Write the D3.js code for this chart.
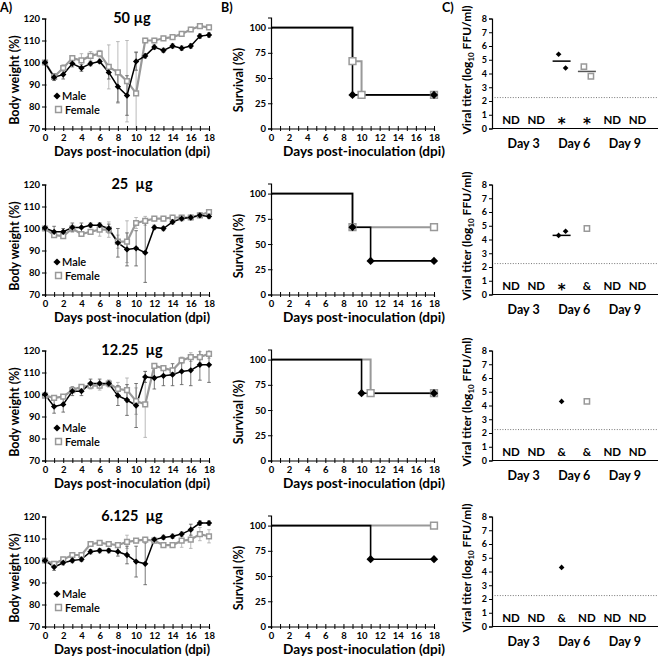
<!DOCTYPE html>
<html><head><meta charset="utf-8">
<script src="https://cdn.jsdelivr.net/npm/d3@7"></script>
<style>
body{margin:0;background:#fff}
text{font-family:Lato,"Open Sans",sans-serif;fill:#000}
</style>
</head><body>
<svg id="chart" width="658" height="661"></svg>
<script>
// ---------- DATA ----------
const days = [0,1,2,3,4,5,6,7,8,9,10,11,12,13,14,15,16,17,18];
const dayTickLabels = [0,2,4,6,8,10,12,14,16,18];
const weightTicks = [70,80,90,100,110,120];
const survivalTicks = [0,25,50,75,100];
const titerTicks = [0,1,2,3,4,5,6,7,8];
const doses = ["50 µg","25  µg","12.25  µg","6.125  µg"];
const seriesNames = ["Male","Female"];

const maleWeight = [
 [100,93.3,94.5,99.5,97.5,99.5,100.5,95.5,89,85,100.5,103,107,105.5,107.5,106.5,107.5,112,112.5],
 [100.3,98.5,98.5,100.5,100.5,101.5,101.5,100,93.5,90.5,91,89,100.5,100,103,104.5,105,106,105.5],
 [100,94.5,95.5,101.5,101.5,105,105,105,99.5,97.5,95,108,107.5,108.5,109,110.5,111,113.5,113.5],
 [100,97,99,100,100.5,104,104.5,104.5,104,102.5,99.5,98.5,109.5,110.5,111,112,114,117,117]
];
const maleErr = [
 [0.5,1.5,2,1.5,1.5,1,1,3,7,9,4,1,1,1,1,1,1,1,1],
 [0.5,2.5,1.5,2,2,1,1,2,6.5,7.5,8,13.5,1,1,1,1,1,1,1],
 [0.5,3,3.5,2,2,2,2,1.5,4.5,7,10,2.5,5,4.5,5,6,7,7,8],
 [0.5,1.5,1,1,1,1,1,1,2,4,7,9.5,1,1,1,1,2.5,1,1]
];
const femaleWeight = [
 [100,93.5,97.5,102,101,103,104,98,95.5,91.5,86,110,110,111,111.5,113,115,116.5,116],
 [100,97,96.5,100,97.5,98.5,99.5,99.5,94,94,102.5,103.5,104.5,104.5,105,105,105,106,107.5],
 [99.5,98.5,99,102,103.5,104,104,105,102.5,102,97,95.5,113,112,111,115.5,117,117,118.5],
 [100,98.5,100.5,102.5,102.5,107.5,108,107.5,107,108.5,109,109.5,109,107,107,109,109.5,112,111]
];
const femaleErr = [
 [0.5,1.5,1.5,1,3,2,1.5,10,14,18.5,19,1,1,1,1,1,1,1,1],
 [0.5,1,1,1.5,1,1,3,3.5,3,9.5,2.5,2,1,1,1,1,1,1,1],
 [0.5,1,1,1,1,1.5,2,1,3,5.5,6,15,1,1,1,1.5,2,2.5,2],
 [0.5,1,1,1,1,1,1,1,1,3,1,1,1,1,1,3,4,3,3]
];

// survival steps: [day, percent]
const maleSurvival = [
 [[0,100],[9,33.3],[18,33.3]],
 [[0,100],[9,66.7],[11,33.3],[18,33.3]],
 [[0,100],[10,66.7],[18,66.7]],
 [[0,100],[11,66.7],[18,66.7]]
];
const femaleSurvival = [
 [[0,100],[9,66.7],[10,33.3],[18,33.3]],
 [[0,100],[9,66.7],[18,66.7]],
 [[0,100],[11,66.7],[18,66.7]],
 [[0,100],[18,100]]
];

const titerGroups = ["Day 3","Day 6","Day 9"];
const titerLabels = [
 ["ND","ND","*","*","ND","ND"],
 ["ND","ND","*","&","ND","ND"],
 ["ND","ND","&","&","ND","ND"],
 ["ND","ND","&","ND","ND","ND"]
];
const maleTiter = [[5.4,4.4],[4.3,4.6],[4.3],[4.3]];
const femaleTiter = [[4.5,3.8],[4.8],[4.3],[]];
const maleTiterMean = [4.9,4.3,null,null];
const femaleTiterMean = [4.15,null,null,null];
const detectionLimit = 2.25;

// ---------- DRAW ----------
const svg = d3.select("#chart");
const GREY = "#999";
const ROW = 166;

function drawDiamond(g, x, y, s){
  g.append("path").attr("d", d3.symbol().type(d3.symbolSquare).size(s||26)())
   .attr("transform",`translate(${x},${y}) rotate(45)`).attr("fill","#000");
}
function drawSquare(g, x, y, s){
  g.append("path").attr("d", d3.symbol().type(d3.symbolSquare).size(s||34)())
   .attr("transform",`translate(${x},${y})`).attr("fill","#fff").attr("stroke",GREY).attr("stroke-width",1.5);
}
function styleAxis(g){
  g.select(".domain").attr("stroke","#000").attr("stroke-width",1.2);
  g.selectAll(".tick line").attr("stroke","#000").attr("stroke-width",1);
  g.selectAll(".tick text").attr("font-weight","bold").attr("font-size","9.5px").attr("fill","#000");
}

// panel letters
svg.append("text").attr("x",0).attr("y",12).attr("font-weight","bold").attr("font-size","12.5px").text("A)");
svg.append("text").attr("x",221).attr("y",12).attr("font-weight","bold").attr("font-size","12.5px").text("B)");
svg.append("text").attr("x",442).attr("y",12).attr("font-weight","bold").attr("font-size","12.5px").text("C)");

for(let r=0;r<4;r++){
  const off = r*ROW;
  // ===== Panel A =====
  const gA = svg.append("g");
  const xA = d3.scaleLinear().domain([0,18]).range([45,209]);
  const yA = d3.scaleLinear().domain([70,120]).range([128.5+off,18.5+off]);
  const clipY = v => Math.max(70, Math.min(120, v));

  const drawErr = (vals, errs, color) => {
    vals.forEach((v,i)=>{
      const x = xA(days[i]);
      const y1 = yA(clipY(v-errs[i])), y2 = yA(clipY(v+errs[i]));
      gA.append("line").attr("x1",x).attr("x2",x).attr("y1",y1).attr("y2",y2).attr("stroke",color).attr("stroke-width",0.8);
      [v-errs[i], v+errs[i]].forEach(e=>{
        if(e>=70 && e<=120) gA.append("line").attr("x1",x-1.8).attr("x2",x+1.8).attr("y1",yA(e)).attr("y2",yA(e)).attr("stroke",color).attr("stroke-width",0.8);
      });
    });
  };
  drawErr(femaleWeight[r], femaleErr[r], "#aaa");
  drawErr(maleWeight[r], maleErr[r], "#555");

  const lineA = d3.line().x((d,i)=>xA(days[i])).y(d=>yA(d));
  gA.append("path").attr("d",lineA(femaleWeight[r])).attr("fill","none").attr("stroke",GREY).attr("stroke-width",2.2);
  gA.append("path").attr("d",lineA(maleWeight[r])).attr("fill","none").attr("stroke","#000").attr("stroke-width",1.5);
  femaleWeight[r].forEach((v,i)=>drawSquare(gA,xA(days[i]),yA(v),22));
  maleWeight[r].forEach((v,i)=>drawDiamond(gA,xA(days[i]),yA(v),20));

  const axYA = gA.append("g").attr("transform","translate(45,0)")
    .call(d3.axisLeft(yA).tickValues(weightTicks).tickSize(3).tickPadding(2));
  styleAxis(axYA);
  axYA.selectAll(".tick line").attr("x1",1.5);
  const axXA = gA.append("g").attr("transform",`translate(0,${128.5+off})`)
    .call(d3.axisBottom(xA).tickValues(days).tickSize(2.5).tickPadding(3).tickFormat(d=>dayTickLabels.includes(d)?d:""));
  styleAxis(axXA);
  axXA.selectAll(".tick line").attr("y1",-2.5);

  gA.append("text").attr("x",132).attr("y",23+off).attr("text-anchor","middle").attr("font-weight","bold")
    .attr("font-size","14.5px").style("white-space","pre").text(doses[r]);
  gA.append("text").attr("x",132).attr("y",156+off).attr("text-anchor","middle").attr("font-weight","bold")
    .attr("font-size","12.5px").attr("textLength",156).attr("lengthAdjust","spacingAndGlyphs").text("Days post-inoculation (dpi)");
  gA.append("text").attr("transform",`translate(19,${80+off}) rotate(-90)`).attr("text-anchor","middle").attr("font-weight","bold")
    .attr("font-size","12.5px").text("Body weight (%)");
  // legend
  drawDiamond(gA,57,96+off,26);
  gA.append("text").attr("x",62).attr("y",100+off).attr("font-size","11px").attr("font-weight","600").text(seriesNames[0]);
  drawSquare(gA,58.5,109.5+off,34);
  gA.append("text").attr("x",65).attr("y",113.5+off).attr("font-size","11px").attr("font-weight","600").text(seriesNames[1]);

  // ===== Panel B =====
  const gB = svg.append("g");
  const xB = d3.scaleLinear().domain([0,18]).range([271,434]);
  const yB = d3.scaleLinear().domain([0,110]).range([128.5+off,17.5+off]);
  const stepLine = d3.line().x(d=>xB(d[0])).y(d=>yB(d[1])).curve(d3.curveStepAfter);
  gB.append("path").attr("d",stepLine(femaleSurvival[r])).attr("fill","none").attr("stroke",GREY).attr("stroke-width",2);
  gB.append("path").attr("d",stepLine(maleSurvival[r])).attr("fill","none").attr("stroke","#000").attr("stroke-width",1.6);
  femaleSurvival[r].slice(1).forEach(d=>drawSquare(gB,xB(d[0]),yB(d[1]),46));
  maleSurvival[r].slice(1).forEach(d=>drawDiamond(gB,xB(d[0]),yB(d[1]),34));

  const axYB = gB.append("g").attr("transform","translate(271,0)")
    .call(d3.axisLeft(yB).tickValues(survivalTicks).tickSize(3).tickPadding(2));
  styleAxis(axYB);
  axYB.selectAll(".tick line").attr("x1",1.5);
  const axXB = gB.append("g").attr("transform",`translate(0,${128.5+off})`)
    .call(d3.axisBottom(xB).tickValues(days).tickSize(2.5).tickPadding(3).tickFormat(d=>dayTickLabels.includes(d)?d:""));
  styleAxis(axXB);
  axXB.selectAll(".tick line").attr("y1",-2.5);
  gB.append("text").attr("x",364).attr("y",156+off).attr("text-anchor","middle").attr("font-weight","bold")
    .attr("font-size","12.5px").attr("textLength",162).attr("lengthAdjust","spacingAndGlyphs").text("Days post-inoculation (dpi)");
  gB.append("text").attr("transform",`translate(243,${80+off}) rotate(-90)`).attr("text-anchor","middle").attr("font-weight","bold")
    .attr("font-size","12.5px").text("Survival (%)");

  // ===== Panel C =====
  const gC = svg.append("g");
  const xC = d3.scaleLinear().domain([0,5]).range([511,637.5]);
  const yC = d3.scaleLinear().domain([0,8]).range([128.5+off,18.5+off]);
  gC.append("line").attr("x1",492).attr("x2",658).attr("y1",yC(detectionLimit)).attr("y2",yC(detectionLimit))
    .attr("stroke","#777").attr("stroke-width",1).attr("stroke-dasharray","1,1.6");
  const axYC = gC.append("g").attr("transform","translate(492,0)")
    .call(d3.axisLeft(yC).tickValues(titerTicks).tickSize(3).tickPadding(2));
  styleAxis(axYC);
  axYC.selectAll(".tick text").attr("font-size","9px");
  gC.append("line").attr("x1",492).attr("x2",658).attr("y1",yC(0)).attr("y2",yC(0)).attr("stroke","#000").attr("stroke-width",1.2);

  titerLabels[r].forEach((t,i)=>{
    const star = t==="*";
    gC.append("text").attr("x",xC(i)).attr("y",yC(0)-(star?-0.5:5)).attr("text-anchor","middle").attr("font-weight","bold")
      .style("font-family",star?"'DejaVu Sans'":null)
      .attr("font-size",star?"15px":"11.5px").text(t);
  });
  titerGroups.forEach((t,j)=>{
    gC.append("text").attr("x",(xC(2*j)+xC(2*j+1))/2).attr("y",yC(0)+19).attr("text-anchor","middle").attr("font-weight","bold")
      .attr("font-size","12.5px").text(t);
  });
  const jit = n => n===1 ? [0] : [-3,4];
  if(maleTiterMean[r]!=null) gC.append("line").attr("x1",xC(2)-9).attr("x2",xC(2)+9).attr("y1",yC(maleTiterMean[r])).attr("y2",yC(maleTiterMean[r])).attr("stroke","#000").attr("stroke-width",1.5);
  if(femaleTiterMean[r]!=null) gC.append("line").attr("x1",xC(3)-9).attr("x2",xC(3)+9).attr("y1",yC(femaleTiterMean[r])).attr("y2",yC(femaleTiterMean[r])).attr("stroke","#555").attr("stroke-width",1.5);
  const jm = jit(maleTiter[r].length);
  maleTiter[r].forEach((v,i)=>drawDiamond(gC,xC(2)+jm[i],yC(v),16));
  const jf = jit(femaleTiter[r].length);
  femaleTiter[r].forEach((v,i)=>drawSquare(gC,xC(3)+jf[i],yC(v),28));

  const ylab = gC.append("text").attr("transform",`translate(471,${70+off}) rotate(-90)`).attr("text-anchor","middle")
    .attr("font-weight","bold").attr("font-size","12px");
  ylab.append("tspan").text("Viral titer (log");
  ylab.append("tspan").attr("font-size","8px").attr("dy",3).text("10");
  ylab.append("tspan").attr("dy",-3).text(" FFU/ml)");
}
</script>
</body></html>
